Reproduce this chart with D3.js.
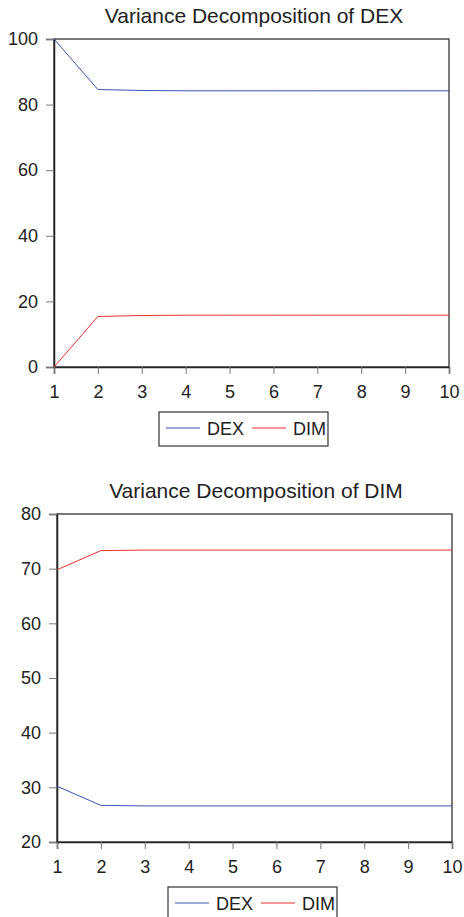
<!DOCTYPE html>
<html>
<head>
<meta charset="utf-8">
<script src="https://cdn.jsdelivr.net/npm/d3@7"></script>
<style>
  body { margin: 0; background: #fff; }
  text { font-family: "Liberation Sans", Arial, Helvetica, sans-serif; fill: #222; }
  .tick line { stroke: #777; }
</style>
</head>
<body>
<div id="chart"></div>
<script>
// forecast horizon (periods)
const periods = [1, 2, 3, 4, 5, 6, 7, 8, 9, 10];

// variance decomposition of DEX (percent)
const dexShareOfDEX = [100, 84.6, 84.3, 84.2, 84.2, 84.2, 84.2, 84.2, 84.2, 84.2];
const dimShareOfDEX = [0, 15.4, 15.7, 15.8, 15.8, 15.8, 15.8, 15.8, 15.8, 15.8];

// variance decomposition of DIM (percent)
const dexShareOfDIM = [30.2, 26.7, 26.6, 26.6, 26.6, 26.6, 26.6, 26.6, 26.6, 26.6];
const dimShareOfDIM = [69.8, 73.3, 73.4, 73.4, 73.4, 73.4, 73.4, 73.4, 73.4, 73.4];

const seriesNames = ['DEX', 'DIM'];
const topTicks = [0, 20, 40, 60, 80, 100];
const bottomTicks = [20, 30, 40, 50, 60, 70, 80];

const width = 464, height = 917;
const color = d3.scaleOrdinal().domain(seriesNames).range(['#3a55b4', '#e8312e']);

const svg = d3.select('#chart').append('svg')
    .attr('width', width)
    .attr('height', height);

// one panel = title + framed plot + legend box
function drawPanel(cfg) {
  const x = d3.scaleLinear().domain([1, 10]).range([cfg.left, cfg.right]);
  const y = d3.scaleLinear().domain(cfg.yDomain).range([cfg.bottom, cfg.top]);
  const g = svg.append('g');

  g.append('text')
    .attr('x', cfg.titleX)
    .attr('y', cfg.titleY)
    .attr('text-anchor', 'middle')
    .style('font-size', '21px')
    .text(cfg.title);

  // frame
  g.append('rect')
    .attr('x', cfg.left).attr('y', cfg.top)
    .attr('width', cfg.right - cfg.left)
    .attr('height', cfg.bottom - cfg.top)
    .attr('fill', 'none')
    .attr('stroke', '#333')
    .attr('stroke-width', 1.3);

  const yAxis = g.append('g')
    .attr('transform', `translate(${cfg.left},0)`)
    .call(d3.axisLeft(y).tickValues(cfg.yTicks).tickSize(8).tickPadding(8).tickFormat(d3.format('d')));
  yAxis.select('.domain').attr('stroke', '#222').attr('stroke-width', 1.5);
  yAxis.selectAll('text').style('font-size', '18px').attr('fill', '#222');

  const xAxis = g.append('g')
    .attr('transform', `translate(0,${cfg.bottom})`)
    .call(d3.axisBottom(x).tickValues(periods).tickSize(7).tickPadding(11).tickFormat(d3.format('d')));
  xAxis.select('.domain').attr('stroke', '#222').attr('stroke-width', 1.5);
  xAxis.selectAll('text').style('font-size', '18px').attr('fill', '#222');

  const line = d3.line()
    .x((d, i) => x(periods[i]))
    .y(d => y(d));

  cfg.series.forEach((vals, k) => {
    g.append('path')
      .datum(vals)
      .attr('fill', 'none')
      .attr('stroke', color(seriesNames[k]))
      .attr('stroke-width', 1)
      .attr('d', line);
  });

  // legend
  const lg = g.append('g').attr('transform', `translate(${cfg.legendX},${cfg.legendY})`);
  lg.append('rect')
    .attr('width', 169).attr('height', 34)
    .attr('fill', '#fff')
    .attr('stroke', '#333')
    .attr('stroke-width', 1.2);
  seriesNames.forEach((name, k) => {
    const item = lg.append('g').attr('transform', `translate(${7 + k * 86},0)`);
    item.append('line')
      .attr('x1', 0).attr('x2', 34)
      .attr('y1', 16).attr('y2', 16)
      .attr('stroke', color(name))
      .attr('stroke-width', 1);
    item.append('text')
      .attr('x', 41).attr('y', 23)
      .style('font-size', '18px')
      .text(name);
  });
}

drawPanel({
  title: 'Variance Decomposition of DEX',
  titleX: 254, titleY: 23,
  left: 54, right: 449, top: 39, bottom: 367,
  yDomain: [0, 100], yTicks: topTicks,
  series: [dexShareOfDEX, dimShareOfDEX],
  legendX: 159, legendY: 412
});

drawPanel({
  title: 'Variance Decomposition of DIM',
  titleX: 256, titleY: 498,
  left: 57, right: 452, top: 514, bottom: 842,
  yDomain: [20, 80], yTicks: bottomTicks,
  series: [dexShareOfDIM, dimShareOfDIM],
  legendX: 168, legendY: 887
});
</script>
</body>
</html>
